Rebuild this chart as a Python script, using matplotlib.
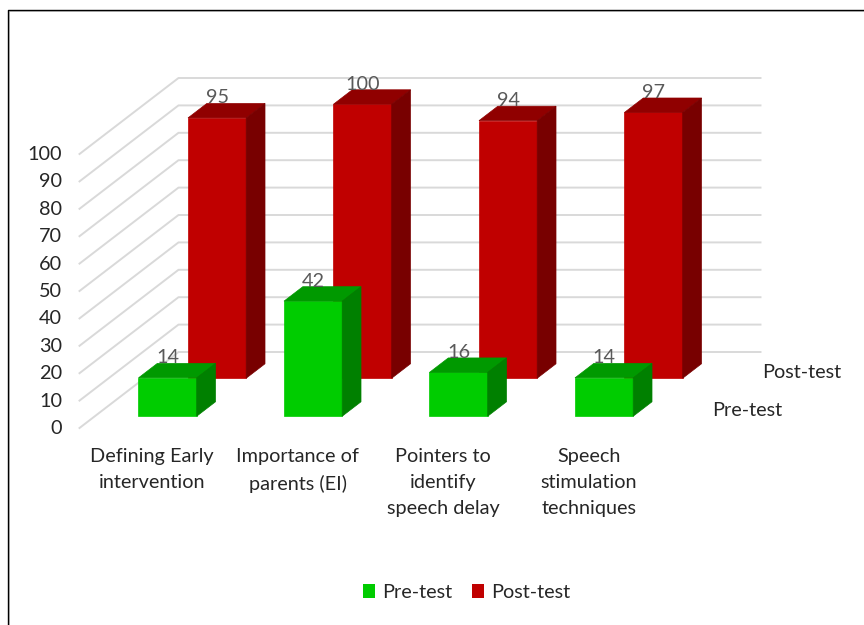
import matplotlib
matplotlib.use('Agg')
import matplotlib.pyplot as plt
from matplotlib.patches import Patch, Polygon

plt.rcParams['font.family'] = ['Lato', 'DejaVu Sans']

categories = ['Defining Early\nintervention', 'Importance of\nparents (EI)',
              'Pointers to\nidentify\nspeech delay', 'Speech\nstimulation\ntechniques']
pre_test = [14, 42, 16, 14]
post_test = [95, 100, 94, 97]
series_names = ['Pre-test', 'Post-test']
y_ticks = list(range(0, 101, 10))

# oblique projection of the 3D box: (category, value, depth) -> canvas pixels
X0, Y0 = 79.5, 428
SLOT_W = 145.5
PX_PER_UNIT = 2.74
DEPTH_X, DEPTH_Y = 99, 76
BAR_W = 0.40
BAR_D = 0.19
FS = 14.3


def proj(c, v, d):
    return (X0 + c * SLOT_W + d * DEPTH_X, Y0 - v * PX_PER_UNIT - d * DEPTH_Y)


def draw_bar(ax, i, value, s, front, top, side):
    c0 = i + 0.5 - BAR_W / 2
    c1 = c0 + BAR_W
    d0 = s * 0.5 + 0.25 - BAR_D / 2
    d1 = d0 + BAR_D
    ax.add_patch(Polygon([proj(c0, 0, d0), proj(c1, 0, d0), proj(c1, value, d0), proj(c0, value, d0)],
                         fc=front, ec=front, lw=0.5, zorder=3))
    ax.add_patch(Polygon([proj(c0, value, d0), proj(c1, value, d0), proj(c1, value, d1), proj(c0, value, d1)],
                         fc=top, ec=top, lw=0.5, zorder=3))
    ax.add_patch(Polygon([proj(c1, 0, d0), proj(c1, 0, d1), proj(c1, value, d1), proj(c1, value, d0)],
                         fc=side, ec=side, lw=0.5, zorder=3))
    # value sits above the top face, centred on the front of the bar
    lx = proj(c0 + BAR_W / 2, value, d0)[0]
    ly = proj(c0, value, d1)[1]
    ax.text(lx, ly - 5.5, str(value), ha='center', va='center', fontsize=FS, color='#595959', zorder=6)


fig = plt.figure(figsize=(8.64, 6.25), dpi=100)
ax = fig.add_axes([0, 0, 1, 1])
ax.set_xlim(0, 864)
ax.set_ylim(625, 0)
ax.axis('off')

# walls
for t in y_ticks:
    ax.plot(*zip(proj(0, t, 0), proj(0, t, 1), proj(4, t, 1)), color='#d9d9d9', lw=1.4, zorder=1)
    x, y = proj(0, t, 0)
    ax.text(x - 17.5, y + 0.5, str(t), ha='right', va='center', fontsize=FS, color='#262626')

# back row goes first so the front row sits over it
for i, v in enumerate(post_test):
    draw_bar(ax, i, v, 1, '#c00000', '#900000', '#780000')
for i, v in enumerate(pre_test):
    draw_bar(ax, i, v, 0, '#00cc00', '#009900', '#008000')

for i, label in enumerate(categories):
    x, _ = proj(i + 0.5, 0, 0)
    ax.text(x, 448, label, ha='center', va='top', fontsize=FS, color='#262626', linespacing=1.66)

ax.text(712, 411, series_names[0], ha='left', va='center', fontsize=FS, color='#262626')
ax.text(762, 373, series_names[1], ha='left', va='center', fontsize=FS, color='#262626')

handles = [Patch(fc='#00cc00', label=series_names[0]), Patch(fc='#c00000', label=series_names[1])]
fig.legend(handles=handles, loc='center', bbox_to_anchor=(466.5 / 864, 1 - 592.5 / 625), ncols=2, frameon=False,
           fontsize=FS, labelcolor='#262626', handlelength=0.6, handleheight=0.65, handletextpad=0.35,
           columnspacing=1.0)

# outer frame with its faint inner shadow
ax.plot([8.7, 8.7, 864], [625, 10.7, 10.7], color='#c8c8c8', lw=0.7, zorder=7)
ax.plot([7.5, 7.5, 864], [625, 9.5, 9.5], color='black', lw=1.0, zorder=8)

fig.savefig('out.png', dpi=100)
